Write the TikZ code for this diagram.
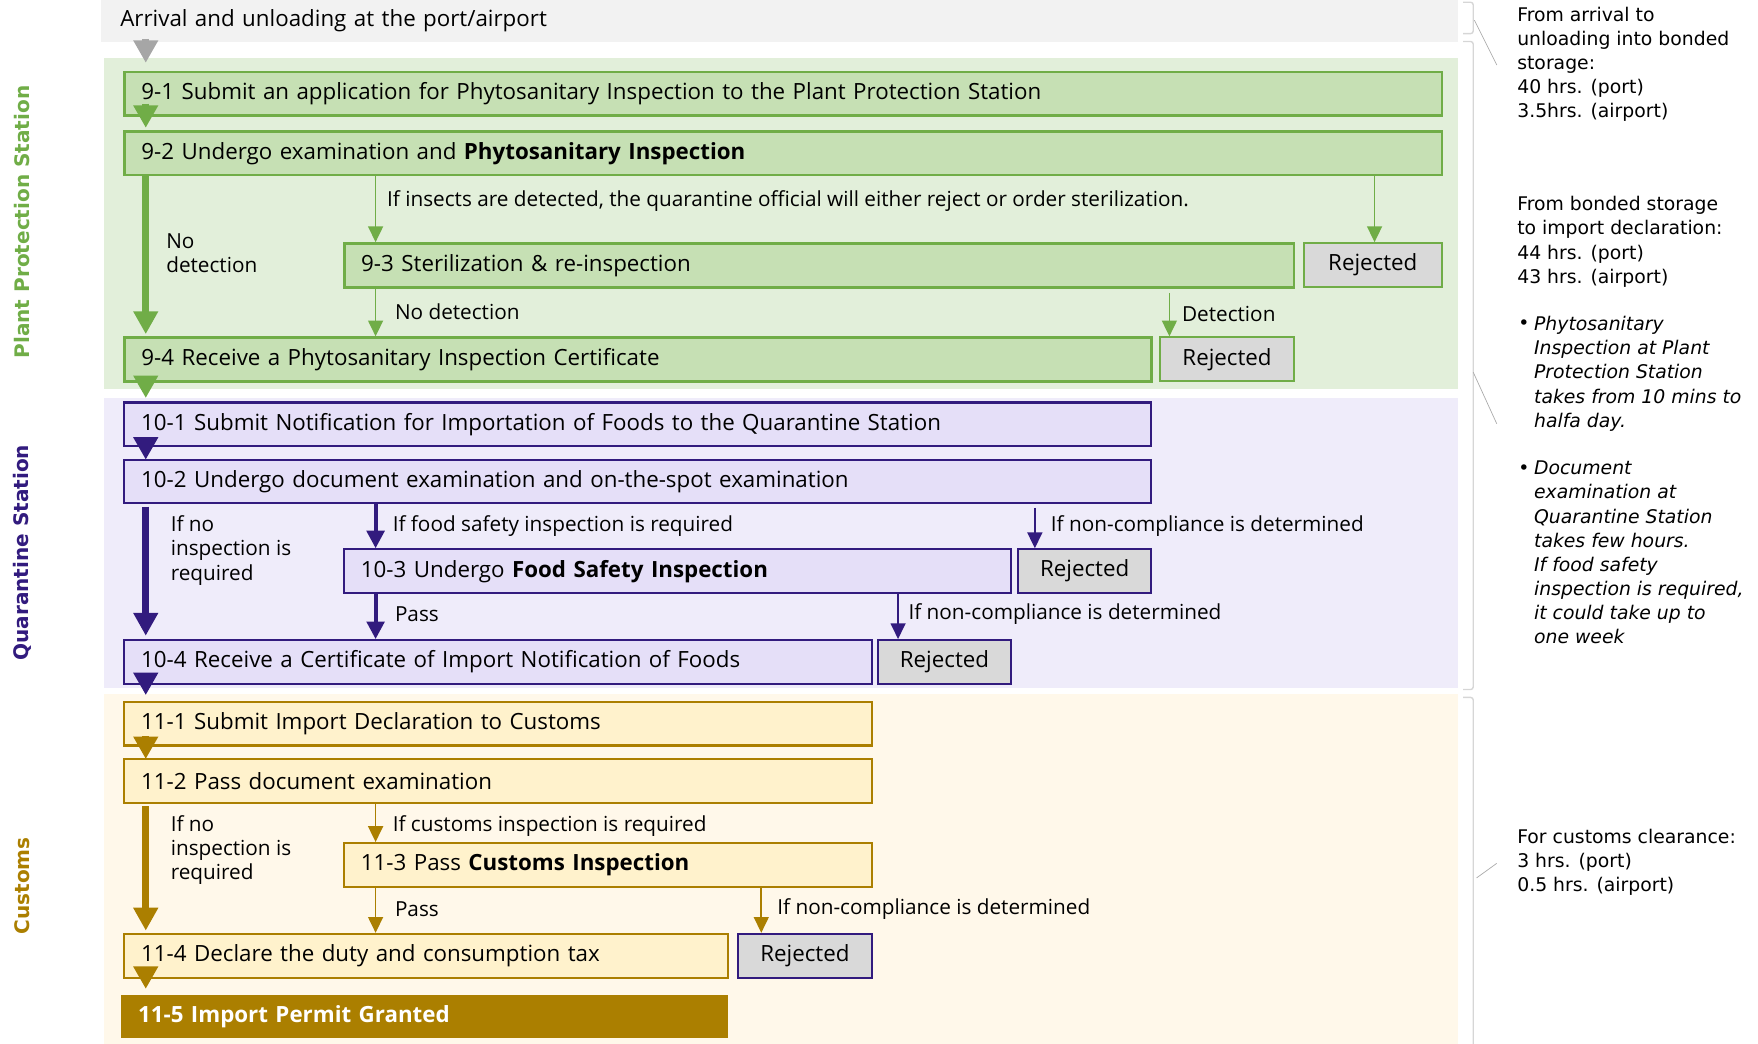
\documentclass[tikz,border=0pt]{standalone}
\usepackage{fontspec}
\setmainfont{Open Sans}
\newfontfamily\sidefont{DejaVu Sans}
\usepackage{tikz}
\usetikzlibrary{calc,arrows.meta}

\newlength\pxu
\setlength\pxu{0.02242cm}
\newcommand\boxfont{\fontsize{12.7}{14}\selectfont}

\definecolor{grnln}{HTML}{70AD47}
\definecolor{grnbox}{HTML}{C6E0B4}
\definecolor{grnband}{HTML}{E2EFDA}
\definecolor{purln}{HTML}{321B7E}
\definecolor{purbox}{HTML}{E5DFF8}
\definecolor{purband}{HTML}{EFECFA}
\definecolor{goldln}{HTML}{AB7F00}
\definecolor{goldbox}{HTML}{FFF2CC}
\definecolor{goldband}{HTML}{FFF8EA}
\definecolor{rejbox}{HTML}{D9D9D9}
\definecolor{greyband}{HTML}{F2F2F2}
\definecolor{greyarr}{HTML}{A6A6A6}
\definecolor{brackln}{HTML}{D6D6D6}

\tikzset{
  box/.style={draw, line width=1.5pt, anchor=north west, minimum height=39*\pxu,
    inner xsep=15*\pxu, inner ysep=0pt, text width=(#1-30)*\pxu, align=left, font=\boxfont},
  gbox/.style={box=#1, draw=grnln, fill=grnbox},
  pbox/.style={box=#1, draw=purln, fill=purbox, line width=1.2pt},
  ybox/.style={box=#1, draw=goldln, fill=goldbox, line width=1.2pt},
  rej/.style={draw, fill=rejbox, line width=1.2pt, anchor=north west, minimum height=39*\pxu,
    minimum width=#1*\pxu, inner sep=0pt, font=\boxfont},
  lbl/.style={anchor=west, inner sep=0pt, align=left, font=\fontsize{11.8}{13.7}\selectfont},
  side/.style={anchor=north west, inner sep=0pt, align=left, font=\sidefont\fontsize{10.7}{13.7}\selectfont},
  note/.style={side, font=\sidefont\itshape\fontsize{10.7}{13.7}\selectfont},
  dot/.style={side, text height=0.75em},
  sect/.style={rotate=90, inner sep=0pt, font=\sidefont\bfseries\fontsize{11.4}{13}\selectfont},
  joinarr/.style={line width=4.1pt, -{Triangle[width=13.4pt,length=12.8pt]}},
  thickarr/.style={line width=4.1pt, -{Triangle[width=13.4pt,length=13pt]}},
  midarr/.style={line width=2.2pt, -{Triangle[width=10pt,length=10pt]}},
  thinarr/.style={line width=0.9pt, -{Triangle[width=8.5pt,length=9pt]}},
  brack/.style={draw=brackln, line width=0.8pt, rounded corners=1.5pt},
}

\begin{document}
\begin{tikzpicture}[x=0.02242cm, y=-0.02242cm]
\useasboundingbox (0,0) rectangle (1568,931);

%Bands
\fill[grnband] (93,52) rectangle (1300,347);
\fill[purband] (93,355) rectangle (1300,614);
\fill[goldband] (93,619) rectangle (1300,931);
\node[anchor=north west, fill=greyband, minimum height=37*\pxu, text width=1176*\pxu,
  inner xsep=17*\pxu, inner ysep=0pt, align=left, font=\boxfont] (arr) at (90,0)
  {Arrival and unloading at the port/airport};

%Section names
\node[sect, text=grnln] (s1) at (20,198) {Plant Protection Station};
\node[sect, text=purln] (s2) at (20,493) {Quarantine Station};
\node[sect, text=goldln] (s3) at (20,790) {Customs};

%Plant Protection Station
\node[gbox=1175] (b91) at (110,63) {9-1 Submit an application for Phytosanitary Inspection to the Plant Protection Station};
\node[gbox=1175] (b92) at (110,116) {9-2 Undergo examination and \textbf{Phytosanitary Inspection}};
\node[gbox=847] (b93) at (306,216) {9-3 Sterilization \& re-inspection};
\node[rej=123, draw=grnln] (r1) at (1162,216) {Rejected};
\node[gbox=916] (b94) at (110,300) {9-4 Receive a Phytosanitary Inspection Certificate};
\node[rej=119, draw=grnln] (r2) at (1034,300) {Rejected};

%Quarantine Station
\node[pbox=916] (b101) at (110,358) {10-1 Submit Notification for Importation of Foods to the Quarantine Station};
\node[pbox=916] (b102) at (110,409) {10-2 Undergo document examination and on-the-spot examination};
\node[pbox=595] (b103) at (306,489) {10-3 Undergo \textbf{Food Safety Inspection}};
\node[rej=119, draw=purln] (r3) at (907,489) {Rejected};
\node[pbox=667] (b104) at (110,570) {10-4 Receive a Certificate of Import Notification of Foods};
\node[rej=119, draw=purln] (r4) at (782,570) {Rejected};

%Customs
\node[ybox=667] (b111) at (110,625) {11-1 Submit Import Declaration to Customs};
\node[ybox=667] (b112) at (110,676) {11-2 Pass document examination};
\node[ybox=471] (b113) at (306,751) {11-3 Pass \textbf{Customs Inspection}};
\node[ybox=538] (b114) at (110,832) {11-4 Declare the duty and consumption tax};
\node[rej=120, draw=purln] (r5) at (657,832) {Rejected};
\node[box=541, draw=none, fill=goldln, text=white, font=\boxfont\bfseries] (b115) at (107,886) {11-5 Import Permit Granted};

%Arrow columns
\coordinate (c93) at ($(b93.north west)+(29,0)$);
\coordinate (cr1) at ($(r1.north west)+(64,0)$);
\coordinate (c94) at ($(b94.north west)+(225,0)$);
\coordinate (cr2) at ($(r2.north west)+(9,0)$);
\coordinate (c103) at ($(b103.north west)+(29,0)$);
\coordinate (cr3) at ($(r3.north west)+(16,0)$);
\coordinate (c104) at ($(b104.north west)+(225,0)$);
\coordinate (cr4) at ($(r4.north west)+(19,0)$);
\coordinate (c113) at ($(b113.north west)+(29,0)$);
\coordinate (c114) at ($(b114.north west)+(225,0)$);
\coordinate (cr5) at ($(r5.north west)+(22,0)$);

%Main flow
\draw[joinarr, greyarr] ($(arr.south west)+(40,-3)$) -- ($(b91.north west)+(20,-7)$);
\draw[joinarr, grnln] ($(b91.south west)+(20,-12)$) -- ($(b92.north west)+(20,-2)$);
\draw[thickarr, grnln] ($(b92.south west)+(20,0)$) -- ($(b94.north west)+(20,-2)$);
\draw[joinarr, grnln] ($(b94.south west)+(20,-3)$) -- ($(b101.north west)+(20,-3)$);
\draw[joinarr, purln] ($(b101.south west)+(20,-7)$) -- ($(b102.north west)+(20,1)$);
\draw[thickarr, purln] ($(b102.south west)+(20,2)$) -- ($(b104.north west)+(20,-3)$);
\draw[joinarr, purln] ($(b104.south west)+(20,-9)$) -- ($(b111.north west)+(20,-5)$);
\draw[joinarr, goldln] ($(b111.south west)+(20,-9)$) -- ($(b112.north west)+(20,1)$);
\draw[thickarr, goldln] ($(b112.south west)+(20,2)$) -- ($(b114.north west)+(20,-2)$);
\draw[joinarr, goldln] ($(b114.south west)+(20,-9)$) -- ($(b115.north west)+(23,-4)$);

%Side flow
\draw[thinarr, grnln] (b92.south -| c93) -- (c93);
\draw[thinarr, grnln] (b92.south -| cr1) -- (cr1);
\draw[thinarr, grnln] (b93.south -| c94) -- (c94);
\draw[thinarr, grnln] ($(b93.south -| cr2)+(0,4)$) -- (cr2);
\draw[midarr, purln] (b102.south -| c103) -- (c103);
\draw[thinarr, purln] ($(b102.south -| cr3)+(0,3)$) -- (cr3);
\draw[midarr, purln] (b103.south -| c104) -- (c104);
\draw[thinarr, purln] (b103.south -| cr4) -- (cr4);
\draw[thinarr, goldln] (b112.south -| c113) -- (c113);
\draw[thinarr, goldln] (b113.south -| c114) -- (c114);
\draw[thinarr, goldln] (b113.south -| cr5) -- (cr5);

%Labels
\node[lbl] (l1) at (148,226) {No\\detection};
\node[lbl] (l2) at (345,179) {If insects are detected, the quarantine official will either reject or order sterilization.};
\node[lbl] (l3) at (352,278) {No detection};
\node[lbl] (l4) at (1054,280) {Detection};
\node[lbl] (l5) at (152,491) {If no\\inspection is\\required};
\node[lbl] (l6) at (350,469) {If food safety inspection is required};
\node[lbl] (l7) at (937,469) {If non-compliance is determined};
\node[lbl] (l8) at (352,548) {Pass};
\node[lbl] (l9) at (810,548) {If non-compliance is determined};
\node[lbl] (l10) at (152,758) {If no\\inspection is\\required};
\node[lbl] (l11) at (350,737) {If customs inspection is required};
\node[lbl] (l12) at (352,811) {Pass};
\node[lbl] (l13) at (693,811) {If non-compliance is determined};

%Brackets
\draw[brack] (1305,2) -- (1314,2) -- (1314,30) -- (1305,30);
\draw[brack] (1305,37) -- (1314,37) -- (1314,615) -- (1305,615);
\draw[brack] (1305,622) -- (1314,622) -- (1314,940);
\draw[draw=brackln!80!black, line width=0.4pt] (1315,18) -- (1335,58);
\draw[draw=brackln!80!black, line width=0.4pt] (1314,332) -- (1335,378);
\draw[draw=brackln!80!black, line width=0.4pt] (1317,783) -- (1335,770);

%Times
\node[side] (t1) at (1353,6) {From arrival to\\unloading into bonded\\storage:\\40 hrs. (port)\\3.5hrs. (airport)};
\node[side] (t2) at (1353,175) {From bonded storage\\to import declaration:\\44 hrs. (port)\\43 hrs. (airport)};
\node[dot] (d1) at (1354,282) {•};
\node[note] (t3) at (1368,282) {Phytosanitary\\Inspection at Plant\\Protection Station\\takes from 10 mins to\\halfa day.};
\node[dot] (d2) at (1354,411) {•};
\node[note] (t4) at (1368,411) {Document\\examination at\\Quarantine Station\\takes few hours.\\If food safety\\inspection is required,\\it could take up to\\one week};
\node[side] (t5) at (1353,739) {For customs clearance:\\3 hrs. (port)\\0.5 hrs. (airport)};

\end{tikzpicture}
\end{document}
